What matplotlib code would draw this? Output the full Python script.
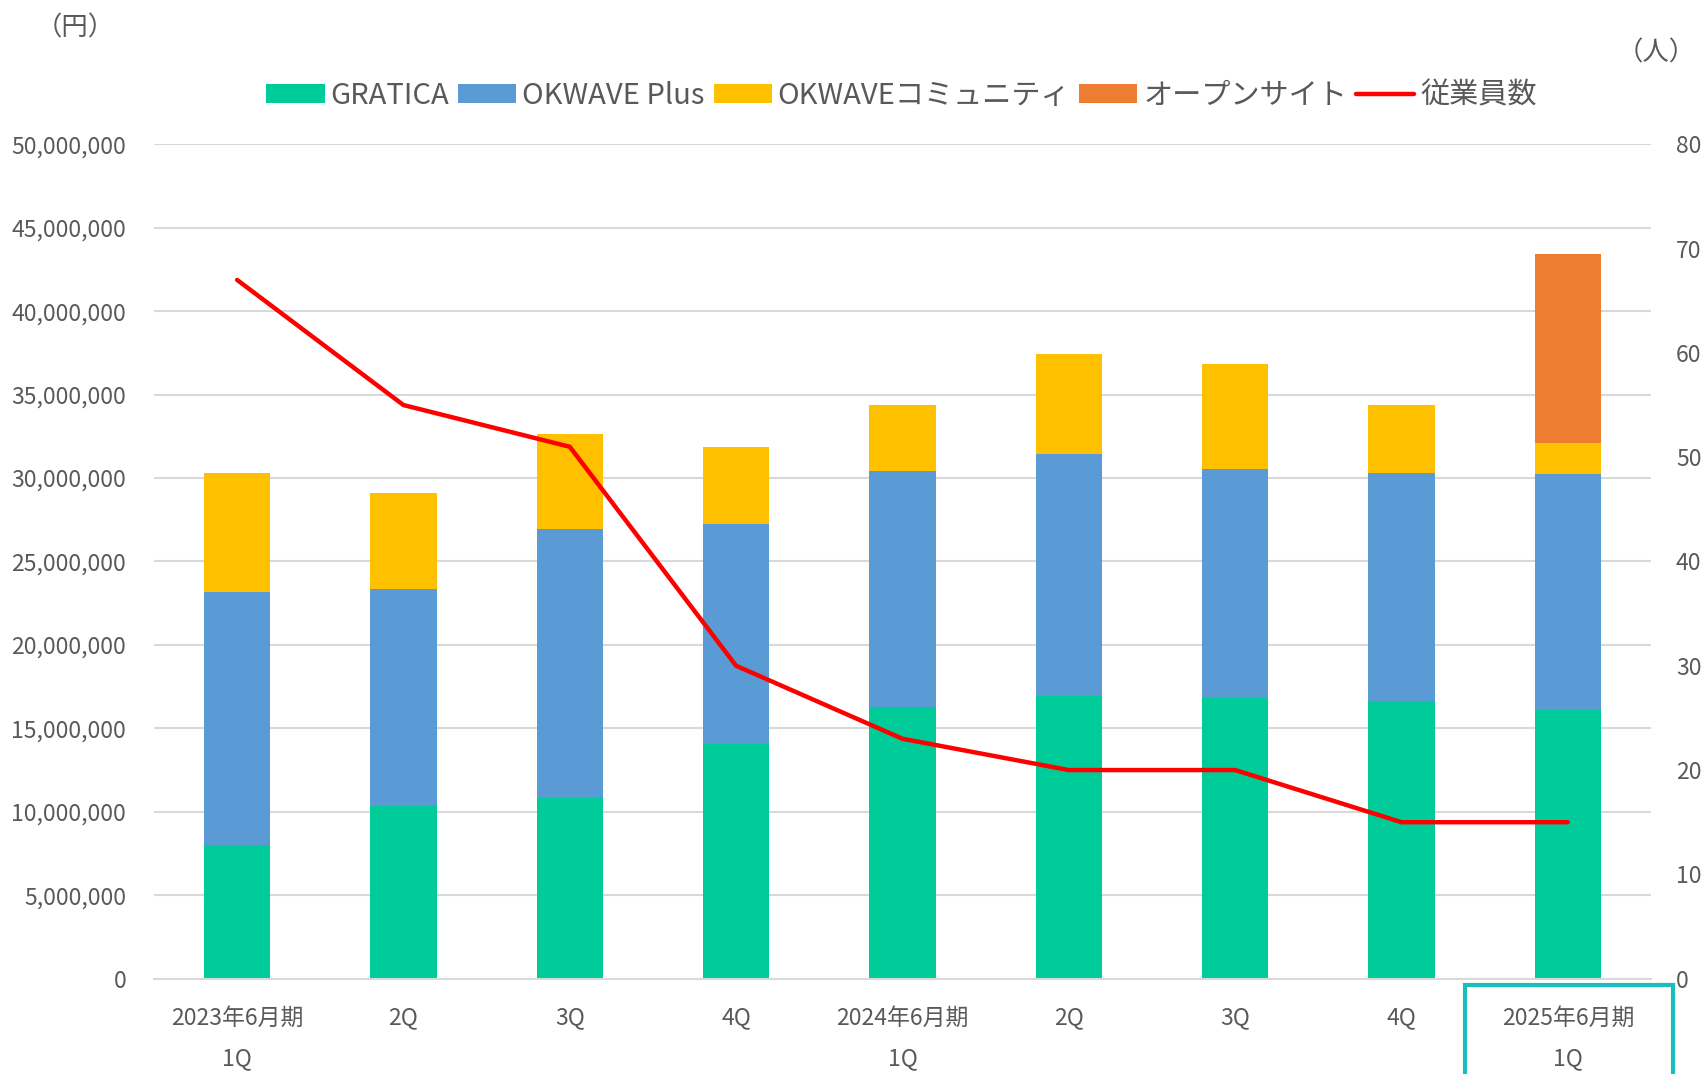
import matplotlib
matplotlib.use("Agg")
from matplotlib import pyplot as plt
from matplotlib.patches import Rectangle
from matplotlib.ticker import FuncFormatter
import numpy as np

plt.rcParams['font.family'] = ['Noto Sans CJK JP', 'DejaVu Sans']

# quarters
quarters = ["2023年6月期\n1Q", "2Q", "3Q", "4Q", "2024年6月期\n1Q", "2Q", "3Q", "4Q", "2025年6月期\n1Q"]

# revenue by segment (yen)
gratica = [8.0e6, 10.35e6, 10.85e6, 14.05e6, 16.25e6, 16.95e6, 16.8e6, 16.65e6, 16.1e6]
okwave_plus = [15.15e6, 13.0e6, 16.1e6, 13.2e6, 14.2e6, 14.5e6, 13.75e6, 13.65e6, 14.15e6]
okwave_comm = [7.15e6, 5.75e6, 5.7e6, 4.6e6, 3.9e6, 6.0e6, 6.3e6, 4.05e6, 1.85e6]
open_site = [0, 0, 0, 0, 0, 0, 0, 0, 11.3e6]

# employees
employees = [67, 55, 51, 30, 23, 20, 20, 15, 15]

c_green = "#00CC99"
c_blue = "#5B9BD5"
c_yellow = "#FFC000"
c_orange = "#ED7D31"
c_text = "#595959"
c_grid = "#D9D9D9"

fig = plt.figure(figsize=(17.01, 10.74), dpi=100)
ax = fig.add_axes([0.0905, 0.0888, 0.8801, 0.7768])
ax2 = ax.twinx()

x = np.arange(len(quarters))
w = 0.40
b1 = np.array(gratica)
b2 = b1 + np.array(okwave_plus)
b3 = b2 + np.array(okwave_comm)
ax.bar(x, gratica, w, color=c_green, label="GRATICA", zorder=2)
ax.bar(x, okwave_plus, w, bottom=b1, color=c_blue, label="OKWAVE Plus", zorder=2)
ax.bar(x, okwave_comm, w, bottom=b2, color=c_yellow, label="OKWAVEコミュニティ", zorder=2)
ax.bar(x, open_site, w, bottom=b3, color=c_orange, label="オープンサイト", zorder=2)
ax2.plot(x, employees, color="#FF0000", lw=3.2, label="従業員数", solid_capstyle="round")

ax.set_xlim(-0.5, 8.5)
ax.set_ylim(0, 50e6)
ax.set_yticks(np.arange(0, 50e6 + 1, 5e6))
ax.yaxis.set_major_formatter(FuncFormatter(lambda v, p: f"{int(v):,}"))
ax.grid(axis="y", color=c_grid, lw=1.5, zorder=0)
ax.set_axisbelow(True)
ax.set_xticks(x)
ax.set_xticklabels(quarters, linespacing=2.0)

ax2.set_ylim(0, 80)
ax2.set_yticks(np.arange(0, 81, 10))

for a in (ax, ax2):
    for s in a.spines.values():
        s.set_visible(False)
    a.tick_params(length=0, colors=c_text, labelsize=16.5)
ax.spines["bottom"].set_visible(True)
ax.spines["bottom"].set_color(c_grid)
ax.spines["bottom"].set_linewidth(1.5)
ax.tick_params(axis="x", pad=20)
ax.tick_params(axis="y", pad=20)
ax2.tick_params(axis="y", pad=18)

fig.text(0.044, 0.974, "（円）", fontsize=19, color=c_text, ha="center", va="center")
fig.text(0.997, 0.951, "（人）", fontsize=19, color=c_text, ha="right", va="center")

h1, l1 = ax.get_legend_handles_labels()
h2, l2 = ax2.get_legend_handles_labels()
fig.legend(h1 + h2, l1 + l2, loc="center", bbox_to_anchor=(0.53, 0.911), ncol=5,
           frameon=False, fontsize=21, handlelength=2.0, handleheight=0.65,
           handletextpad=0.2, columnspacing=0.3, labelcolor=c_text)

# highlight box around the latest quarter label
fig.patches.append(Rectangle((0.8615, -0.02), 0.1223, 0.103, transform=fig.transFigure,
                             fill=False, edgecolor="#1ABEBE", lw=3, clip_on=False))

fig.savefig("out.png", dpi=100)
